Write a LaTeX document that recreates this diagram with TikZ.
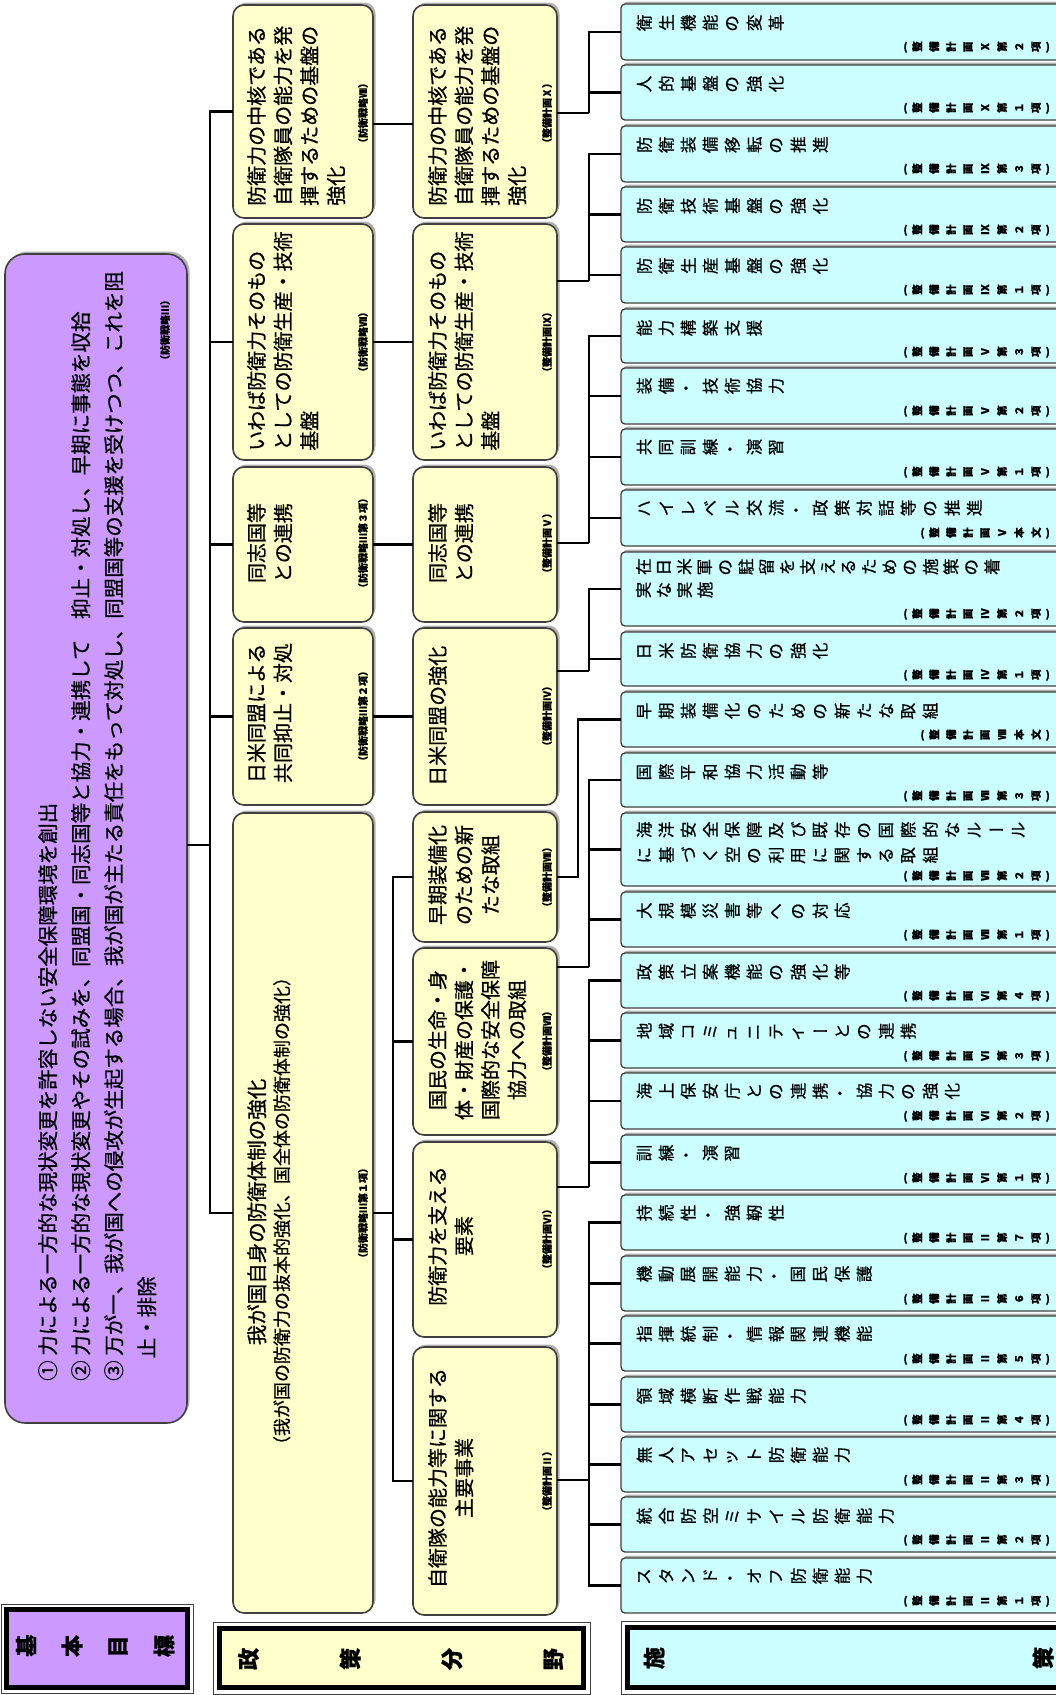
\documentclass[tikz,border=0pt]{standalone}
\usepackage{fontspec}
\setmainfont{Noto Sans CJK JP}[RawFeature={embolden=0.7}]
\usepackage{graphicx}
\usetikzlibrary{shadows}
\definecolor{purp}{HTML}{CC99FF}
\definecolor{yel}{HTML}{FFFFCC}
\definecolor{cyn}{HTML}{CCFFFF}
\definecolor{edge}{HTML}{404040}
\makeatletter
\def\tc@bar{ー}
\def\tc@lp{(}
\def\tc@rp{)}
\newcommand\tatechars[2]{\def\tc@pitch{#1}\@tfor\tc@x:=#2\do{\tc@one}}
\def\tc@one{%
  \ifx\tc@x\tc@bar\hbox to \tc@pitch{\hss\tc@x\hss}%
  \else\ifx\tc@x\tc@lp\hbox{\tc@x\kern1pt}%
  \else\ifx\tc@x\tc@rp\hbox{\kern1pt\tc@x}%
  \else\hbox to \tc@pitch{\hss\rotatebox[origin=c]{90}{\tc@x}\hss}%
  \fi\fi\fi}
\makeatother
\newcommand\mkbox[6]{%
  \node[#1, minimum width={(#5-#3)*1pt}, minimum height={(#6-#4)*1pt}] (#2) at ({(#3+#5)/2},{(#4+#6)/2}) {};}
\newcommand\shisaku[5]{%
  \mkbox{sbox}{s#1}{621}{#2}{1080}{#3}
  \node[stext] (st#1) at (633,{#2+19}) {\tatechars{22pt}{#4}};
  \node[slab] (sl#1) at (1050,{#2+43}) {\tatechars{17pt}{#5}};}
\tikzset{
  conn/.style={line width=2.6pt, draw=black},
  shad/.style={drop shadow={shadow xshift=2.5pt, shadow yshift=2.5pt, fill=black!30, opacity=1}},
  pbox/.style={draw=edge, line width=1.6pt, fill=purp, rounded corners=20pt, inner sep=0pt, outer sep=0pt, shad},
  ybox/.style={draw=edge, line width=1.6pt, fill=yel, rounded corners=11pt, inner sep=0pt, outer sep=0pt, shad},
  sbox/.style={draw=edge, line width=1.3pt, fill=cyn, rounded corners=4pt, inner sep=0pt, outer sep=0pt, shad},
  lfo/.style={draw=black!75, line width=1pt, inner sep=0pt, outer sep=0pt},
  lfi/.style={draw=black, line width=4.5pt, inner sep=0pt, outer sep=0pt},
  ytext/.style={inner sep=0pt, rotate=90, font=\fontsize{20}{26.5}\selectfont},
  ptext/.style={inner sep=0pt, rotate=90, font=\fontsize{20.5}{33}\selectfont},
  lab/.style={inner sep=0pt, rotate=90, font=\bfseries\fontsize{10}{12}\selectfont},
  stext/.style={inner sep=0pt, anchor=west, font=\fontsize{16.5}{18}\selectfont},
  slab/.style={inner sep=0pt, anchor=east, font=\bfseries\fontsize{10.5}{12}\selectfont},
  ltext/.style={inner sep=0pt, font=\bfseries\fontsize{22}{24}\selectfont},
}
\begin{document}
\begin{tikzpicture}[x=1pt,y=-1pt]
\useasboundingbox (0,0) rectangle (1056,1695);
\clip (0,0) rectangle (1056,1695);
\fill[white] (0,0) rectangle (1056,1695);

% ---------- basic goal ----------
\mkbox{pbox}{P}{5}{254}{187}{1423}
\node[ptext, anchor=north west, align=left] (tP) at (38,1381) {① 力による一方的な現状変更を許容しない安全保障環境を創出\\② 力による一方的な現状変更やその試みを、同盟国・同志国等と協力・連携して　抑止・対処し、早期に事態を収拾\\③ 万が一、我が国への侵攻が生起する場合、我が国が主たる責任をもって対処し、同盟国等の支援を受けつつ、これを阻\\\hspace*{1.1em}止・排除};
\node[lab] (lP) at (165,330) {（防衛戦略Ⅲ）};

% ---------- column 1 ----------
\mkbox{ybox}{A1}{233}{5}{373}{218}
\node[ytext, anchor=north west, align=left] (tA1) at (247,206) {防衛力の中核である\\自衛隊員の能力を発\\揮するための基盤の\\強化};
\node[lab] (lA1) at (363,113) {（防衛戦略Ⅷ）};
\mkbox{ybox}{B1}{233}{224}{373}{460}
\node[ytext, anchor=north west, align=left] (tB1) at (247,451) {いわば防衛力そのもの\\としての防衛生産・技術\\基盤};
\node[lab] (lB1) at (363,342) {（防衛戦略Ⅶ）};
\mkbox{ybox}{C1}{233}{467}{373}{622}
\node[ytext, anchor=north, align=left] (tC1) at (247,543) {同志国等\\との連携};
\node[lab] (lC1) at (363,543) {（防衛戦略Ⅲ第３項）};
\mkbox{ybox}{D1}{233}{628}{373}{805}
\node[ytext, anchor=north, align=left] (tD1) at (247,713) {日米同盟による\\共同抑止・対処};
\node[lab] (lD1) at (363,716) {（防衛戦略Ⅲ第２項）};
\mkbox{ybox}{Big}{233}{813}{373}{1613}
\node[ytext, anchor=north, font=\fontsize{20.5}{24}\selectfont] (tBig) at (247,1212) {我が国自身の防衛体制の強化};
\node[ytext, anchor=north, font=\fontsize{18}{24}\selectfont] (tBig2) at (273,1211) {（我が国の防衛力の抜本的強化、国全体の防衛体制の強化）};
\node[lab] (lBig) at (363,1213) {（防衛戦略Ⅲ第１項）};

% ---------- column 2 ----------
\mkbox{ybox}{A2}{413}{5}{557}{218}
\node[ytext, anchor=north west, align=left] (tA2) at (428,206) {防衛力の中核である\\自衛隊員の能力を発\\揮するための基盤の\\強化};
\node[lab] (lA2) at (547,113) {（整備計画Ⅹ）};
\mkbox{ybox}{B2}{413}{224}{557}{460}
\node[ytext, anchor=north west, align=left] (tB2) at (428,451) {いわば防衛力そのもの\\としての防衛生産・技術\\基盤};
\node[lab] (lB2) at (547,342) {（整備計画Ⅸ）};
\mkbox{ybox}{C2}{413}{467}{557}{622}
\node[ytext, anchor=north, align=left] (tC2) at (428,543) {同志国等\\との連携};
\node[lab] (lC2) at (547,543) {（整備計画Ⅴ）};
\mkbox{ybox}{D2}{413}{628}{557}{805}
\node[ytext, anchor=north west, align=left] (tD2) at (428,786) {日米同盟の強化};
\node[lab] (lD2) at (547,716) {（整備計画Ⅳ）};
\mkbox{ybox}{E}{413}{812}{557}{942}
\node[ytext, anchor=north, align=center] (tE) at (428,875) {早期装備化\\のための新\\たな取組};
\node[lab] (lE) at (547,877) {（整備計画Ⅷ）};
\mkbox{ybox}{F}{413}{948}{557}{1135}
\node[ytext, anchor=north, align=center] (tF) at (428,1040) {国民の生命・身\\体・財産の保護・\\国際的な安全保障\\協力への取組};
\node[lab] (lF) at (547,1041) {（整備計画Ⅶ）};
\mkbox{ybox}{G}{413}{1142}{557}{1337}
\node[ytext, anchor=north, align=center] (tG) at (428,1236) {防衛力を支える\\要素};
\node[lab] (lG) at (547,1239) {（整備計画Ⅵ）};
\mkbox{ybox}{H}{413}{1347}{557}{1615}
\node[ytext, anchor=north, align=center] (tH) at (428,1478) {自衛隊の能力等に関する\\主要事業};
\node[lab] (lH) at (547,1481) {（整備計画Ⅱ）};

% ---------- column 3 ----------
\shisaku{1}{4}{60}{衛生機能の変革}{(整備計画Ⅹ第２項)}
\shisaku{2}{65}{120}{人的基盤の強化}{(整備計画Ⅹ第１項)}
\shisaku{3}{126}{182}{防衛装備移転の推進}{(整備計画Ⅸ第３項)}
\shisaku{4}{187}{242}{防衛技術基盤の強化}{(整備計画Ⅸ第２項)}
\shisaku{5}{247}{303}{防衛生産基盤の強化}{(整備計画Ⅸ第１項)}
\shisaku{6}{309}{363}{能力構築支援}{(整備計画Ⅴ第３項)}
\shisaku{7}{368}{424}{装備・技術協力}{(整備計画Ⅴ第２項)}
\shisaku{8}{429}{485}{共同訓練・演習}{(整備計画Ⅴ第１項)}
\shisaku{9}{490}{546}{ハイレベル交流・政策対話等の推進}{(整備計画Ⅴ本文)}
\mkbox{sbox}{s10}{621}{552}{1080}{626}
\node[stext] (st10) at (633,567) {\tatechars{20.5pt}{在日米軍の駐留を支えるための施策の着}};
\node[stext] (st10b) at (633,590) {\tatechars{20.5pt}{実な実施}};
\node[slab] (sl10) at (1050,614) {\tatechars{17pt}{(整備計画Ⅳ第２項)}};
\shisaku{11}{632}{686}{日米防衛協力の強化}{(整備計画Ⅳ第１項)}
\shisaku{12}{692}{747}{早期装備化のための新たな取組}{(整備計画Ⅷ本文)}
\shisaku{13}{753}{807}{国際平和協力活動等}{(整備計画Ⅶ第３項)}
\mkbox{sbox}{s14}{621}{813}{1080}{886}
\node[stext] (st14) at (633,830) {\tatechars{22pt}{海洋安全保障及び既存の国際的なルール}};
\node[stext] (st14b) at (633,855) {\tatechars{22pt}{に基づく空の利用に関する取組}};
\node[slab] (sl14) at (1050,876) {\tatechars{17pt}{(整備計画Ⅶ第２項)}};
\shisaku{15}{892}{947}{大規模災害等への対応}{(整備計画Ⅶ第１項)}
\shisaku{16}{953}{1008}{政策立案機能の強化等}{(整備計画Ⅵ第４項)}
\shisaku{17}{1013}{1068}{地域コミュニティーとの連携}{(整備計画Ⅵ第３項)}
\shisaku{18}{1073}{1129}{海上保安庁との連携・協力の強化}{(整備計画Ⅵ第２項)}
\shisaku{19}{1135}{1190}{訓練・演習}{(整備計画Ⅵ第１項)}
\shisaku{20}{1195}{1250}{持続性・強靭性}{(整備計画Ⅱ第７項)}
\shisaku{21}{1256}{1311}{機動展開能力・国民保護}{(整備計画Ⅱ第６項)}
\shisaku{22}{1316}{1371}{指揮統制・情報関連機能}{(整備計画Ⅱ第５項)}
\shisaku{23}{1377}{1432}{領域横断作戦能力}{(整備計画Ⅱ第４項)}
\shisaku{24}{1437}{1492}{無人アセット防衛能力}{(整備計画Ⅱ第３項)}
\shisaku{25}{1497}{1552}{統合防空ミサイル防衛能力}{(整備計画Ⅱ第２項)}
\shisaku{26}{1558}{1613}{スタンド・オフ防衛能力}{(整備計画Ⅱ第１項)}

% ---------- row labels ----------
\mkbox{lfo}{KO}{1}{1604}{193}{1693}
\mkbox{lfi, fill=purp}{K}{6.5}{1609.5}{187.5}{1687.5}
\node[ltext] (tK) at (95,1646) {\tatechars{46pt}{基本目標}};
\mkbox{lfo}{SO}{213}{1622}{590}{1694}
\mkbox{lfi, fill=yel}{S}{219.5}{1628.5}{583.5}{1687.5}
\node[ltext] (tS) at (401,1659) {\tatechars{101.7pt}{政策分野}};
\mkbox{lfo}{MO}{621}{1621}{1085}{1694}
\mkbox{lfi, fill=cyn}{M}{627.5}{1627.5}{1078}{1687.5}
\node[ltext] (tM) at (848.5,1658) {\tatechars{389pt}{施策}};

% ---------- connectors ----------
\draw[conn] (P.east |- 0,845) -- (210,845);
\foreach \n in {A1,B1,C1,D1,Big} {\draw[conn] (210,845) |- (\n.west);}
\draw[conn] (A1.east |- 0,124) -- (A2.west |- 0,124);
\draw[conn] (B1.east) -- (B2.west);
\draw[conn] (C1.east) -- (C2.west);
\draw[conn] (D1.east) -- (D2.west);
\draw[conn] (Big.east) -- (393,1213);
\foreach \n in {E,F,G,H} {\draw[conn] (393,1213) |- (\n.west);}

\draw[conn] (A2.east |- 0,113) -- (589,113);
\foreach \n in {1,2} {\draw[conn] (589,113) |- (s\n.west);}
\draw[conn] (B2.east |- 0,281) -- (589,281);
\foreach \n in {3,4,5} {\draw[conn] (589,281) |- (s\n.west);}
\draw[conn] (C2.east |- 0,543) -- (589,543);
\foreach \n in {6,7,8,9} {\draw[conn] (589,543) |- (s\n.west);}
\draw[conn] (D2.east |- 0,671) -- (589,671);
\foreach \n in {10,11} {\draw[conn] (589,671) |- (s\n.west);}
\draw[conn] (E.east |- 0,877) -- (578,877) |- (s12.west);
\draw[conn] (F.east |- 0,967) -- (589,967);
\foreach \n in {13,14,15} {\draw[conn] (589,967) |- (s\n.west);}
\draw[conn] (G.east |- 0,1187) -- (589,1187);
\foreach \n in {16,17,18,19} {\draw[conn] (589,1187) |- (s\n.west);}
\draw[conn] (H.east |- 0,1480) -- (589,1480);
\foreach \n in {20,21,22,23,24,25,26} {\draw[conn] (589,1480) |- (s\n.west);}
\end{tikzpicture}
\end{document}
